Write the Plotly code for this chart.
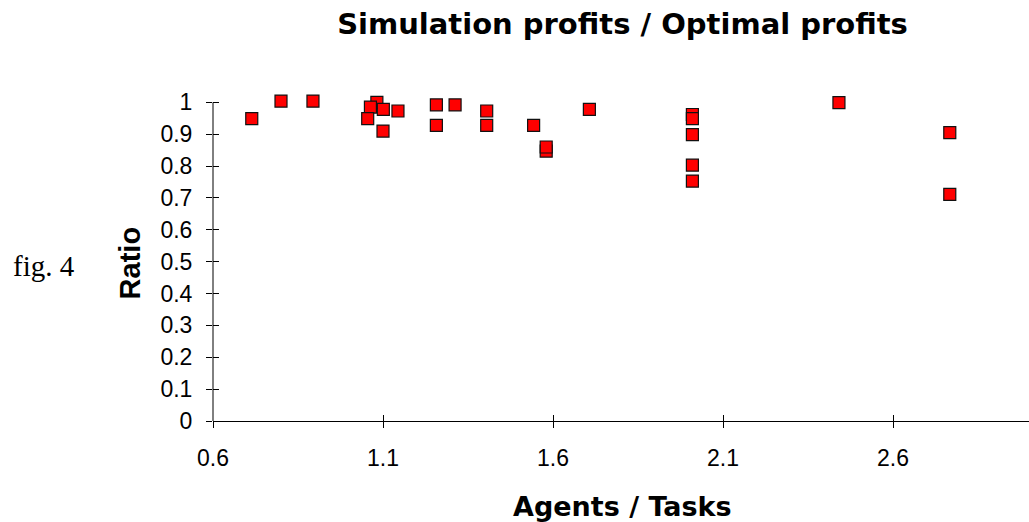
import plotly.graph_objects as go

# Data
agents_per_task = [0.714, 0.800, 0.894, 1.082, 1.063, 1.101, 1.055, 1.100, 1.144,
                   1.257, 1.257, 1.312, 1.405, 1.405, 1.543, 1.580, 1.580, 1.707,
                   2.010, 2.010, 2.010, 2.010, 2.010, 2.441, 2.767, 2.767]
ratio = [0.949, 1.004, 1.004, 1.000, 0.985, 0.978, 0.949, 0.910, 0.973,
         0.992, 0.928, 0.992, 0.973, 0.928, 0.928, 0.847, 0.860, 0.978,
         0.962, 0.949, 0.899, 0.803, 0.753, 0.999, 0.905, 0.711]

x_ticks = [0.6, 1.1, 1.6, 2.1, 2.6]
x_tick_labels = ["0.6", "1.1", "1.6", "2.1", "2.6"]
y_ticks = [0, 0.1, 0.2, 0.3, 0.4, 0.5, 0.6, 0.7, 0.8, 0.9, 1]
y_tick_labels = ["0", "0.1", "0.2", "0.3", "0.4", "0.5", "0.6", "0.7", "0.8", "0.9", "1"]

x_range = [0.6, 3.0]
y_axis_top = 1.0
y_range = [0, 1.02]   # slight headroom so markers just above 1 stay visible

W, H = 1029, 522
px_per_unit_y = 318.3          # pixels for y from 0 to 1
x0_px, y0_px = 212.5, 421      # pixel position of the origin
ph = px_per_unit_y * y_range[1]
L, R, B = x0_px, 0, H - y0_px
T = H - B - ph
pw = W - L - R

fig = go.Figure()
fig.add_trace(go.Scatter(
    x=agents_per_task, y=ratio, mode="markers",
    marker=dict(symbol="square", size=12, color="#ff0000",
                line=dict(color="#111111", width=1.2)),
    cliponaxis=False, showlegend=False, hoverinfo="x+y"))
# empty trace to draw the inside half of the crossing tick marks
fig.add_trace(go.Scatter(x=[], y=[], xaxis="x2", yaxis="y2", showlegend=False,
                         hoverinfo="skip"))

tick_font = dict(family="Liberation Sans, Arial, sans-serif", size=23, color="black")

fig.update_layout(
    width=W, height=H,
    margin=dict(l=L, r=R, t=T, b=B, pad=0),
    paper_bgcolor="white", plot_bgcolor="white",
    showlegend=False,
    title=dict(text="<b>Simulation profits / Optimal profits</b>",
               font=dict(family="DejaVu Sans, sans-serif", size=29, color="black"),
               xref="container", yref="container",
               x=622.5 / W, xanchor="center", y=1 - 24 / H, yanchor="middle"),
    xaxis=dict(range=x_range, tickvals=x_ticks, ticktext=x_tick_labels,
               showgrid=False, zeroline=False, showline=True, linecolor="black",
               linewidth=1, ticks="outside", ticklen=6, tickcolor="black",
               tickwidth=1, tickfont=tick_font, ticklabelstandoff=10),
    yaxis=dict(range=y_range, tickvals=y_ticks, ticktext=y_tick_labels,
               showgrid=False, zeroline=False, showline=False,
               ticks="outside", ticklen=6, tickcolor="black",
               tickwidth=1, tickfont=tick_font, ticklabelstandoff=9),
    xaxis2=dict(range=x_range, tickvals=x_ticks, overlaying="x", anchor="y2",
                side="bottom", showgrid=False, zeroline=False, showline=False,
                ticks="inside", ticklen=6, tickcolor="black", tickwidth=1,
                showticklabels=False),
    yaxis2=dict(range=y_range, tickvals=y_ticks, overlaying="y", anchor="x2",
                side="left", showgrid=False, zeroline=False, showline=False,
                ticks="inside", ticklen=6, tickcolor="black", tickwidth=1,
                showticklabels=False),
)

# y axis line, stopping at 1 like the reference
fig.add_shape(type="line", xref="paper", yref="y", x0=0, x1=0, y0=0, y1=y_axis_top,
              line=dict(color="black", width=1), layer="below")

fig.add_annotation(text="<b>Ratio</b>", textangle=-90, showarrow=False,
                   xref="paper", yref="paper",
                   x=(129 - L) / pw, y=(H - B - 263) / ph,
                   xanchor="center", yanchor="middle",
                   font=dict(family="Liberation Sans, Arial, sans-serif", size=29, color="black"))
fig.add_annotation(text="fig. 4", showarrow=False,
                   xref="paper", yref="paper",
                   x=(43 - L) / pw, y=(H - B - 266) / ph,
                   xanchor="center", yanchor="middle",
                   font=dict(family="Liberation Serif, Times New Roman, serif", size=29, color="black"))
fig.add_annotation(text="<b>Agents / Tasks</b>", showarrow=False,
                   xref="paper", yref="paper",
                   x=(622.75 - L) / pw, y=(H - B - 506) / ph,
                   xanchor="center", yanchor="middle",
                   font=dict(family="DejaVu Sans, sans-serif", size=27, color="black"))

fig.write_html("out.html",
               config={"displayModeBar": False},
               post_script="document.body.style.margin='0';document.body.style.overflow='hidden';")
